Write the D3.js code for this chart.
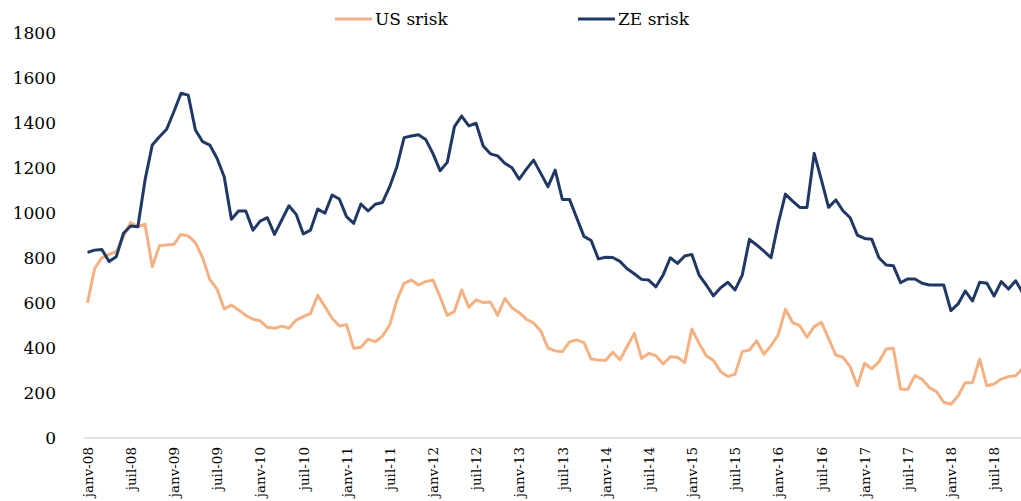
<!DOCTYPE html>
<html>
<head>
<meta charset="utf-8">
<script src="https://cdn.jsdelivr.net/npm/d3@7/dist/d3.min.js"></script>
<style>
  html, body { margin: 0; padding: 0; background: #fff; }
  svg { display: block; }
  text { font-family: "DejaVu Serif", "Liberation Serif", serif; fill: #000; }
</style>
</head>
<body>
<svg id="chart" width="1021" height="501"></svg>
<script>
// ---- Data (monthly, janv-08 .. nov-18) ----
const startMonth = new Date(2008, 0, 1);
const endMonth = new Date(2018, 11, 1);
const categories = d3.timeMonth.range(startMonth, endMonth).map(d3.timeFormat("%Y-%m"));

const usSrisk = [
  601, 754, 801, 816, 828, 895, 958, 939, 950, 761, 855, 858,
  861, 905, 898, 868, 801, 705, 662, 573, 591, 569, 545, 528,
  521, 492, 488, 497, 488, 524, 539, 554, 634, 584, 532, 498,
  504, 399, 403, 439, 428, 453, 502, 613, 687, 702, 680, 695,
  702, 628, 545, 563, 658, 581, 614, 602, 604, 545, 620, 579,
  557, 528, 511, 476, 400, 387, 384, 427, 436, 424, 351, 347,
  344, 381, 348, 407, 465, 354, 376, 366, 329, 361, 359, 335,
  484, 421, 366, 344, 295, 273, 284, 384, 391, 432, 372, 410,
  458, 572, 513, 499, 448, 495, 514, 443, 369, 359, 317, 232,
  332, 307, 339, 396, 399, 218, 216, 277, 261, 224, 206, 159,
  150, 187, 246, 246, 351, 232, 240, 262, 273, 277, 310
];

const zeSrisk = [
  825, 835, 838, 784, 806, 910, 942, 939, 1147, 1302, 1339, 1372,
  1450, 1532, 1524, 1369, 1317, 1302, 1243, 1161, 972, 1009, 1009, 924,
  964, 979, 905, 969, 1032, 994, 907, 924, 1018, 999, 1080, 1062,
  984, 954, 1040, 1009, 1039, 1047, 1117, 1206, 1335, 1342, 1348, 1327,
  1265, 1188, 1225, 1384, 1431, 1387, 1399, 1298, 1263, 1254, 1221, 1201,
  1150, 1195, 1235, 1176, 1117, 1191, 1060, 1060, 978, 896, 878, 796,
  803, 802, 785, 752, 730, 705, 702, 672, 724, 801, 776, 809,
  816, 724, 680, 632, 668, 692, 658, 724, 883, 858, 831, 801,
  954, 1084, 1053, 1025, 1025, 1265, 1147, 1025, 1058, 1010, 979, 902,
  887, 883, 801, 769, 766, 690, 707, 707, 688, 680, 680, 680,
  566, 596, 653, 609, 692, 688, 631, 695, 662, 699, 643
];

const tickLabels = [
  "janv-08", "juil-08", "janv-09", "juil-09", "janv-10", "juil-10",
  "janv-11", "juil-11", "janv-12", "juil-12", "janv-13", "juil-13",
  "janv-14", "juil-14", "janv-15", "juil-15", "janv-16", "juil-16",
  "janv-17", "juil-17", "janv-18", "juil-18"
];
const yTicks = [0, 200, 400, 600, 800, 1000, 1200, 1400, 1600, 1800];

const seriesNames = ["US srisk", "ZE srisk"];
const seriesColors = ["#F4B183", "#203864"];

// ---- Scales ----
const svg = d3.select("#chart");
const x = d3.scalePoint().domain(categories).range([87.5, 87.5 + 130 * 7.195]);
const y = d3.scaleLinear().domain([0, 1800]).range([438, 33]);

// ---- Axis baseline ----
svg.append("line")
  .attr("x1", 84).attr("x2", 1021)
  .attr("y1", y(0)).attr("y2", y(0))
  .attr("stroke", "#d9d9d9").attr("stroke-width", 1.3);

// ---- Y axis labels ----
const yAxis = d3.axisLeft(y).tickValues(yTicks).tickSize(0).tickPadding(0).tickFormat(d3.format("d"));
const gy = svg.append("g").attr("transform", "translate(56,0)").call(yAxis);
gy.select(".domain").remove();
gy.selectAll("text").style("font-size", "17px").attr("font-family", null);

// ---- X axis labels ----
const xTickVals = categories.filter((c, i) => i % 6 === 0).slice(0, tickLabels.length);
const xAxis = d3.axisBottom(x).tickValues(xTickVals).tickSize(0).tickPadding(0)
  .tickFormat((d, i) => tickLabels[i]);
const gx = svg.append("g").attr("transform", "translate(0,447)").call(xAxis);
gx.select(".domain").remove();
gx.selectAll("text")
  .attr("font-family", null)
  .style("font-size", "13.5px")
  .attr("text-anchor", "end")
  .attr("transform", "rotate(-90)")
  .attr("x", 0).attr("y", 0).attr("dy", "0.35em");

// ---- Lines ----
const line = d3.line().x((d, i) => x(categories[i])).y(d => y(d));
[usSrisk, zeSrisk].forEach((s, k) => {
  svg.append("path")
    .datum(s)
    .attr("fill", "none")
    .attr("stroke", seriesColors[k])
    .attr("stroke-width", 3)
    .attr("stroke-linejoin", "round")
    .attr("d", line);
});

// ---- Legend ----
const legendX = [335, 578];
seriesNames.forEach((n, k) => {
  const g = svg.append("g").attr("transform", `translate(${legendX[k]},19)`);
  g.append("line").attr("x1", 0).attr("x2", 37).attr("y1", 0).attr("y2", 0)
    .attr("stroke", seriesColors[k]).attr("stroke-width", 3);
  g.append("text").attr("x", 40).attr("y", 0).attr("dy", "0.35em")
    .style("font-size", "17px").text(n);
});
</script>
</body>
</html>
